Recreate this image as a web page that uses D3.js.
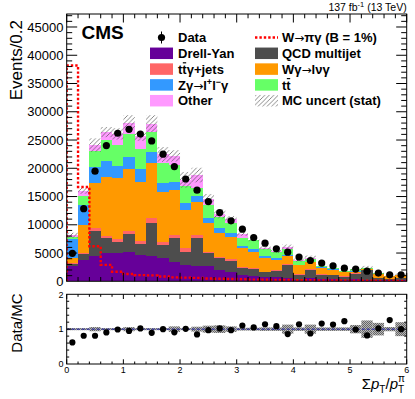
<!DOCTYPE html>
<html><head><meta charset="utf-8">
<script src="https://cdn.jsdelivr.net/npm/d3@7"></script>
<style>body{margin:0;background:#fff} text{font-family:"Liberation Sans",Arial,Helvetica,sans-serif}</style>
</head><body><svg id="c" width="415" height="399"></svg>
<script>
// ---- data ----
const binLow = [0,0.2,0.4,0.6,0.8,1.0,1.2,1.4,1.6,1.8,2.0,2.2,2.4,2.6,2.8,3.0,3.2,3.4,3.6,3.8,4.0,4.2,4.4,4.6,4.8,5.0,5.2,5.4,5.6,5.8];
const binWidth = 0.2;
const drellYan = [2750,3800,4530,4990,5090,5220,4690,4500,4100,3500,2800,2620,2620,2030,1730,1150,970,740,740,560,270,560,440,390,270,390,250,200,150,150];
const qcd      = [350,1060,4400,2650,1840,3180,1890,5900,2350,4140,2470,5020,2370,2070,1950,1180,1290,820,1120,2300,820,1420,710,640,470,940,1800,360,270,450];
const ttgJets  = [100,230,470,400,600,470,580,770,590,580,600,580,280,180,240,180,180,170,170,180,180,180,120,120,110,120,30,60,40,50];
const wgLnug   = [900,4840,7960,10490,10710,10960,10490,9830,8840,7980,6710,5890,5130,4350,4000,3360,2830,2370,1770,1470,1530,1170,1060,880,710,280,70,680,390,400];
const zgLlg    = [3450,3570,2890,2830,2250,2240,2180,1950,1480,1450,1240,1010,880,770,710,410,480,290,300,180,120,170,120,70,60,70,30,30,20,30];
const ttbar    = [350,1620,2750,3660,3600,3950,3540,3540,3540,2950,2980,1350,2240,2060,1770,1470,1470,1410,1060,1010,700,420,290,300,230,300,120,70,30,60];
const other    = [250,880,1100,1380,2000,2080,2280,1410,1550,1600,1150,2330,1030,470,630,600,160,120,140,300,130,280,40,30,50,80,30,20,10,10];
const mcErr    = [450,500,1200,900,1000,1300,800,1500,1300,1000,1400,1300,900,800,500,300,300,300,300,500,250,350,150,150,100,250,400,200,100,200];
const dataVals = [4950,12850,19480,24010,26200,26900,26050,24840,22490,20300,18100,16120,14110,12170,10700,9230,7750,6750,5750,5160,4280,3680,3220,2740,2330,2160,1800,1450,1150,1150];
const signal   = [38200,16700,6200,2900,1700,1300,1100,1050,850,700,650,600,500,450,400,350,300,280,250,230,200,180,160,150,130,120,110,100,90,80];
const ratioVals= [0.62,0.81,0.81,0.905,0.99,0.95,1.02,0.895,1.0,0.91,1.01,0.85,0.97,1.02,0.97,1.105,1.05,1.14,1.085,0.86,1.14,0.875,1.16,1.13,1.23,0.99,0.82,1.02,1.26,1.0];
const ratioErr = [0.03,0.03,0.06,0.03,0.03,0.06,0.03,0.03,0.03,0.08,0.03,0.07,0.1,0.11,0.08,0.04,0.04,0.05,0.05,0.13,0.05,0.13,0.05,0.05,0.05,0.12,0.25,0.18,0.06,0.2];
const yMainTicks = [0,5000,10000,15000,20000,25000,30000,35000,40000,45000];
const yRatioTicks = [0,1,2];
const xTicks = [0,1,2,3,4,5,6];

const keys = ["dy","qcd","ttg","wg","zg","tt","other"];
const colors = {dy:"#660099",qcd:"#4d4d4d",ttg:"#ff6666",wg:"#ff9900",zg:"#3399ff",tt:"#66ff66",other:"#ff99ff"};
const table = binLow.map((lo,i)=>({lo, hi:lo+binWidth, dy:drellYan[i], qcd:qcd[i], ttg:ttgJets[i], wg:wgLnug[i], zg:zgLlg[i], tt:ttbar[i], other:other[i]}));

// ---- layout ----
const svg=d3.select("#c");
const X0=66.7,X1=406.7,MT=14,MB=281.3,RT=294.3,RB=364;
const x=d3.scaleLinear().domain([0,6]).range([X0,X1]);
const y=d3.scaleLinear().domain([0,47300]).range([MB,MT]);
const yr=d3.scaleLinear().domain([0,2]).range([RB,RT]);

const defs=svg.append("defs");
const hp=defs.append("pattern").attr("id","hatch").attr("patternUnits","userSpaceOnUse").attr("width",4.5).attr("height",4.5);
hp.append("path").attr("d","M-1,1 L1,-1 M0,4.5 L4.5,0 M3.5,5.5 L5.5,3.5").attr("stroke","#555").attr("stroke-width",0.7);
const sp=defs.append("pattern").attr("id","stip").attr("patternUnits","userSpaceOnUse").attr("width",2).attr("height",2);
sp.append("rect").attr("width",2).attr("height",2).attr("fill","#b8b8b8");
sp.append("rect").attr("width",1).attr("height",1).attr("fill","#666");
sp.append("rect").attr("x",1).attr("y",1).attr("width",1).attr("height",1).attr("fill","#666");
defs.append("clipPath").attr("id","clipM").append("rect").attr("x",X0).attr("y",MT).attr("width",X1-X0).attr("height",MB-MT);
defs.append("clipPath").attr("id","clipR").append("rect").attr("x",X0).attr("y",RT).attr("width",X1-X0).attr("height",RB-RT);

// ---- main stacked histogram ----
const gM=svg.append("g").attr("clip-path","url(#clipM)");
const stacked=d3.stack().keys(keys)(table);
stacked.forEach(layer=>{
  gM.append("g").attr("fill",colors[layer.key]).attr("shape-rendering","crispEdges")
    .selectAll("rect").data(layer).join("rect")
    .attr("x",d=>x(d.data.lo)).attr("width",d=>x(d.data.hi)-x(d.data.lo))
    .attr("y",d=>y(d[1])).attr("height",d=>Math.max(0,y(d[0])-y(d[1])));
});
const totals=stacked[stacked.length-1].map(d=>d[1]);
gM.append("g").selectAll("rect").data(table).join("rect")
  .attr("x",d=>x(d.lo)).attr("width",d=>x(d.hi)-x(d.lo))
  .attr("y",(d,i)=>y(totals[i]+mcErr[i])).attr("height",(d,i)=>y(totals[i]-mcErr[i])-y(totals[i]+mcErr[i]))
  .attr("fill","url(#hatch)");
// signal
const sigPts=[[0,0]].concat(binLow.map((lo,i)=>[lo,signal[i]])).concat([[6,signal[signal.length-1]]]);
gM.append("path").datum(sigPts)
  .attr("d",d3.line().x(d=>x(d[0])).y(d=>y(d[1])).curve(d3.curveStepAfter))
  .attr("fill","none").attr("stroke","#ff0000").attr("stroke-width",2.4).attr("stroke-dasharray","2.4,2");
// data
gM.append("g").selectAll("circle").data(dataVals).join("circle")
  .attr("cx",(d,i)=>x(binLow[i]+binWidth/2)).attr("cy",d=>y(d)).attr("r",3.6).attr("fill","#000");

// ---- ratio panel ----
const gR=svg.append("g").attr("clip-path","url(#clipR)");
gR.append("g").selectAll("rect").data(ratioErr).join("rect")
  .attr("x",(d,i)=>x(binLow[i])).attr("width",(d,i)=>x(binLow[i]+binWidth)-x(binLow[i]))
  .attr("y",d=>yr(1+d)).attr("height",d=>yr(1-d)-yr(1+d)).attr("fill","url(#stip)");
gR.append("line").attr("x1",X0).attr("x2",X1).attr("y1",yr(1)).attr("y2",yr(1))
  .attr("stroke","#1a1aa0").attr("stroke-width",1).attr("stroke-dasharray","3,2");
gR.append("g").selectAll("circle").data(ratioVals).join("circle")
  .attr("cx",(d,i)=>x(binLow[i]+binWidth/2)).attr("cy",d=>yr(d)).attr("r",3.1).attr("fill","#000");

// ---- frames & ticks ----
const gA=svg.append("g").attr("stroke","#000").attr("stroke-width",1).attr("fill","none");
gA.append("rect").attr("x",X0).attr("y",MT).attr("width",X1-X0).attr("height",MB-MT);
gA.append("rect").attr("x",X0).attr("y",RT).attr("width",X1-X0).attr("height",RB-RT);
function vTicks(scale,vals,len,top,bot){vals.forEach(v=>{const px=scale(v);
  gA.append("line").attr("x1",px).attr("x2",px).attr("y1",bot).attr("y2",bot-len);
  gA.append("line").attr("x1",px).attr("x2",px).attr("y1",top).attr("y2",top+len);});}
function hTicks(scale,vals,len){vals.forEach(v=>{const py=scale(v);
  gA.append("line").attr("x1",X0).attr("x2",X0+len).attr("y1",py).attr("y2",py);
  gA.append("line").attr("x1",X1).attr("x2",X1-len).attr("y1",py).attr("y2",py);});}
const xMinor=binLow.filter(v=>Math.abs(v-Math.round(v))>1e-6);
vTicks(x,xTicks,8.5,MT,MB); vTicks(x,xMinor,4.3,MT,MB);
vTicks(x,xTicks,4.7,RT,RB); vTicks(x,xMinor,2.5,RT,RB);
const yMinor=d3.range(1000,47300,1000).filter(v=>v%5000!==0);
hTicks(y,yMainTicks.filter(v=>v>0),10.5); hTicks(y,yMinor,5.5);
const yrMinor=[0.2,0.4,0.6,0.8,1.2,1.4,1.6,1.8];
hTicks(yr,yRatioTicks.filter(v=>v>0&&v<2),4.5); hTicks(yr,yrMinor,2.5);

// ---- labels ----
const gL=svg.append("g").attr("fill","#000");
gL.selectAll("text.ym").data(yMainTicks).join("text").attr("class","ym")
  .attr("x",63.5).attr("y",d=>y(d)+4.6).attr("text-anchor","end").attr("font-size",13).text(d=>d);
gL.selectAll("text.yr").data(yRatioTicks).join("text").attr("class","yr")
  .attr("x",63.5).attr("y",d=>yr(d)+3.2).attr("text-anchor","end").attr("font-size",9).text(d=>d);
gL.selectAll("text.xt").data(xTicks).join("text").attr("class","xt")
  .attr("x",d=>x(d)).attr("y",372.5).attr("text-anchor","middle").attr("font-size",9).text(d=>d);
gL.append("text").attr("transform","translate(21.5,20) rotate(-90)").attr("text-anchor","end")
  .attr("font-size",17).text("Events/0.2");
gL.append("text").attr("transform","translate(21.5,293.5) rotate(-90)").attr("text-anchor","end")
  .attr("font-size",15).text("Data/MC");
const xt=gL.append("text").attr("x",405).attr("y",388.5).attr("text-anchor","end").attr("font-size",15);
xt.append("tspan").text("Σ");
xt.append("tspan").attr("font-style","italic").text("p");
xt.append("tspan").attr("font-size",10).attr("dy",4).text("T");
xt.append("tspan").attr("dy",-4).text("/");
xt.append("tspan").attr("font-style","italic").text("p");
xt.append("tspan").attr("font-size",10).attr("dy",4).text("T");
xt.append("tspan").attr("font-size",10).attr("dx",-6).attr("dy",-11).text("π");
gL.append("text").attr("x",406.7).attr("y",11).attr("text-anchor","end").attr("font-size",10.5)
  .html('137 fb<tspan dy="-4" font-size="7.5">-1</tspan><tspan dy="4"> (13 TeV)</tspan>');
gL.append("text").attr("x",81.5).attr("y",38.5).attr("font-size",19).attr("font-weight","bold").text("CMS");

// ---- legend ----
const gLeg=svg.append("g");
const rowY=k=>37.5+15.8*k;
const LSX=150, LTX=178, RSX=255, RTX=282, SW=23, SH=11.5;
function legLabel(xx,k,build){const t=gLeg.append("text").attr("x",xx).attr("y",rowY(k)+4.7)
  .attr("font-size",13).attr("font-weight","bold"); build(t); return t;}
function arrow(t){t.append("tspan").attr("font-family","DejaVu Sans").attr("font-weight","normal").attr("font-size",12).text("\u2192");}
function swatch(xx,k,fill){gLeg.append("rect").attr("x",xx).attr("y",rowY(k)-SH/2).attr("width",SW).attr("height",SH).attr("fill",fill);}
// Data
gLeg.append("line").attr("x1",LSX+SW/2).attr("x2",LSX+SW/2).attr("y1",rowY(0)-6).attr("y2",rowY(0)+6).attr("stroke","#000");
gLeg.append("circle").attr("cx",LSX+SW/2).attr("cy",rowY(0)).attr("r",3.6);
legLabel(LTX,0,t=>t.text("Data"));
swatch(LSX,1,colors.dy); legLabel(LTX,1,t=>t.text("Drell-Yan"));
swatch(LSX,2,colors.ttg);
const ttgT=legLabel(LTX,2,t=>t.text("tt\u03b3+jets"));
swatch(LSX,3,colors.zg);
legLabel(LTX,3,t=>{t.append("tspan").text("Z\u03b3");arrow(t);t.append("tspan").text("l");
  t.append("tspan").attr("dy",-5).attr("font-size",9).text("+");
  t.append("tspan").attr("dy",5).text("l");t.append("tspan").attr("dy",-5).attr("font-size",9).text("\u2212");
  t.append("tspan").attr("dy",5).text("\u03b3");});
swatch(LSX,4,colors.other); legLabel(LTX,4,t=>t.text("Other"));
// right column
gLeg.append("line").attr("x1",RSX).attr("x2",RSX+SW).attr("y1",rowY(0)).attr("y2",rowY(0))
  .attr("stroke","#ff0000").attr("stroke-width",2.4).attr("stroke-dasharray","2.4,2");
legLabel(RTX,0,t=>{t.append("tspan").text("W");arrow(t);t.append("tspan").text("\u03c0\u03b3 (B = 1%)");});
swatch(RSX,1,colors.qcd); legLabel(RTX,1,t=>t.text("QCD multijet"));
swatch(RSX,2,colors.wg); legLabel(RTX,2,t=>{t.append("tspan").text("W\u03b3");arrow(t);t.append("tspan").text("l\u03bd\u03b3");});
swatch(RSX,3,colors.tt); const ttT=legLabel(RTX,3,t=>t.text("tt"));
swatch(RSX,4,"url(#hatch)"); legLabel(RTX,4,t=>t.text("MC uncert (stat)"));
// overlines on anti-top
[[ttgT,2],[ttT,3]].forEach(([t,k])=>{const e=t.node().getExtentOfChar(1);
  gLeg.append("line").attr("x1",e.x+0.5).attr("x2",e.x+e.width-0.5).attr("y1",rowY(k)-6.3).attr("y2",rowY(k)-6.3)
  .attr("stroke","#000").attr("stroke-width",1.2);});
</script></body></html>
